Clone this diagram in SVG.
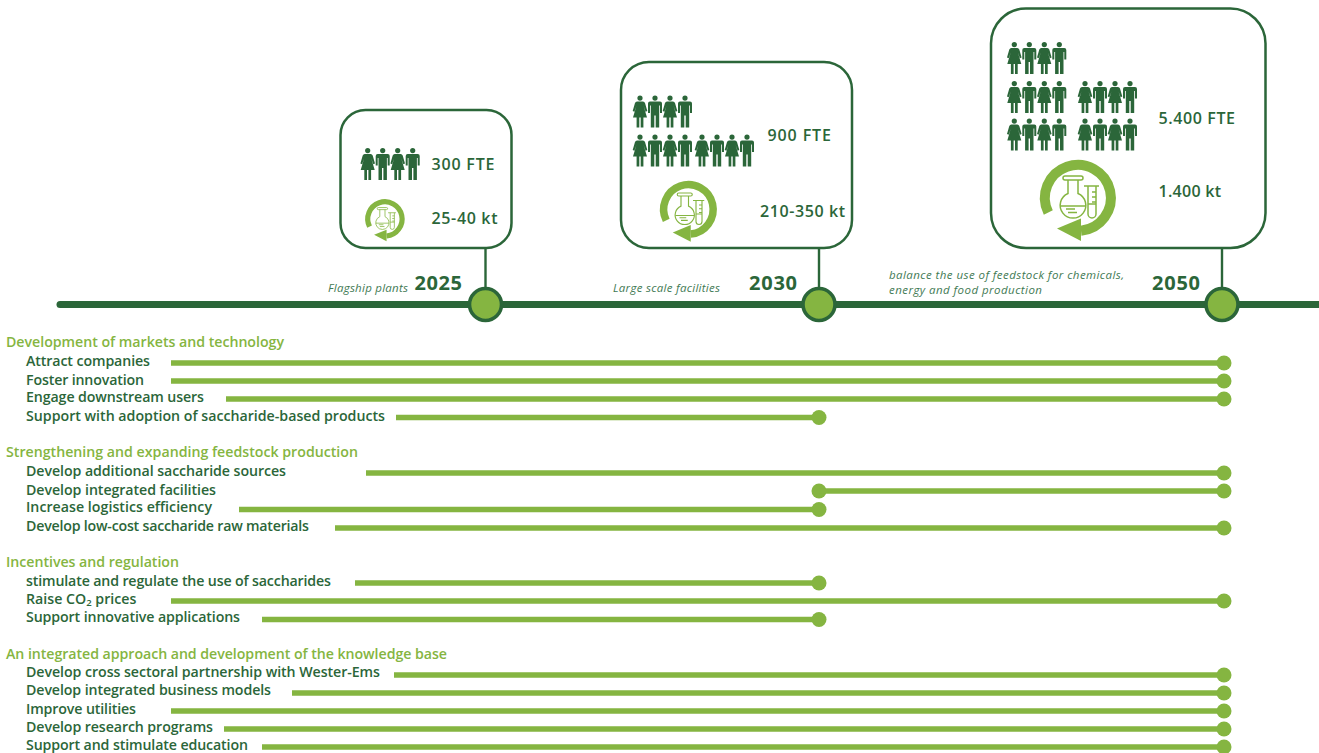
<svg xmlns="http://www.w3.org/2000/svg" width="1319" height="753" viewBox="0 0 1319 753">
<style>
text{font-family:"Open Sans",Lato,"Liberation Sans",sans-serif}
.box{fill:#fff;stroke:#2b6639;stroke-width:2.5}
.stem{stroke:#2b6639;stroke-width:2.4;fill:none}
.axis{stroke:#2b6639;stroke-width:7;stroke-linecap:round;fill:none}
.mile{fill:#85b541;stroke:#2b6639;stroke-width:3.6}
.bar{stroke:#85b541;stroke-width:5.4;fill:none}
.dot{fill:#85b541}
.head{fill:#85b541;font-size:14.2px;font-weight:600}
.item{fill:#2b6639;font-size:14.2px;font-weight:600}
.val{fill:#2b6639;font-size:16px;font-weight:600}
.year{fill:#2b6639;font-size:20px;font-weight:700}
.note{fill:#3f7a54;font-size:11.5px;font-style:italic;font-weight:400}
.p{fill:#2b6639}
</style>
<defs>
<g id="man" class="p"><circle cx="0" cy="2.6" r="2.6"/><path d="M-5 6H5Q7 6 7 8V17.5H5V10H4.2V32H0.7V20H-0.7V32H-4.2V10H-5V17.5H-7V8Q-7 6-5 6Z"/></g>
<g id="woman" class="p"><circle cx="0" cy="2.6" r="2.6"/><path d="M-3 6H3Q4.400 6 5 7.500L7.300 15.500L5.600 16.200L3.600 10.500L7 22H3.400V32H0.700V22H-0.700V32H-3.400V22H-7L-3.600 10.500L-5.600 16.200L-7.300 15.500L-5 7.500Q-4.400 6-3 6Z"/></g>
<g id="ico">
<path d="M3 32.700A33 33 0 1 0 -29.700 14.500" fill="none" stroke="#85b541" stroke-width="10"/>
<path d="M-21 30.500L3 20.500V43Z" fill="#85b541"/>
<g fill="none" stroke="#85b541" stroke-width="1.500">
<rect x="-15" y="-22" width="20" height="4" rx="2"/>
<path d="M-10 -18V-4.500A12.800 12.800 0 1 0 0 -4.500V-18"/>
<path d="M-17.500 8H7.500M-12 11H-3M-10 14.500H-1"/>
<path d="M6 -12H21M10 -12V16A4 4 0 0 0 18 16V-12M10 6H18M14 -6H18M14 -1H18M14 4H18"/>
</g>
</g>
</defs>

<g id="connectors">
<line class="axis" x1="60" y1="304.500" x2="1325" y2="304.500"/>
<line class="stem" x1="485.500" y1="248" x2="485.500" y2="290"/>
<line class="stem" x1="819" y1="248" x2="819" y2="290"/>
<line class="stem" x1="1222" y1="248" x2="1222" y2="290"/>
<g id="bars">
<line class="bar" x1="171" y1="363" x2="1224" y2="363"/><circle class="dot" cx="1224" cy="363" r="7.500"/>
<line class="bar" x1="171" y1="381" x2="1224" y2="381"/><circle class="dot" cx="1224" cy="381" r="7.500"/>
<line class="bar" x1="226" y1="399" x2="1224" y2="399"/><circle class="dot" cx="1224" cy="399" r="7.500"/>
<line class="bar" x1="396" y1="417.500" x2="819" y2="417.500"/><circle class="dot" cx="819" cy="417.500" r="7.500"/>
<line class="bar" x1="366" y1="473" x2="1224" y2="473"/><circle class="dot" cx="1224" cy="473" r="7.500"/>
<circle class="dot" cx="819" cy="491" r="7.500"/><line class="bar" x1="819" y1="491" x2="1224" y2="491"/><circle class="dot" cx="1224" cy="491" r="7.500"/>
<line class="bar" x1="239" y1="509.500" x2="819" y2="509.500"/><circle class="dot" cx="819" cy="509.500" r="7.500"/>
<line class="bar" x1="335" y1="528" x2="1224" y2="528"/><circle class="dot" cx="1224" cy="528" r="7.500"/>
<line class="bar" x1="355" y1="583" x2="819" y2="583"/><circle class="dot" cx="819" cy="583" r="7.500"/>
<line class="bar" x1="171" y1="601" x2="1224" y2="601"/><circle class="dot" cx="1224" cy="601" r="7.500"/>
<line class="bar" x1="262" y1="619.500" x2="819" y2="619.500"/><circle class="dot" cx="819" cy="619.500" r="7.500"/>
<line class="bar" x1="394" y1="675" x2="1224" y2="675"/><circle class="dot" cx="1224" cy="675" r="7.500"/>
<line class="bar" x1="292" y1="693" x2="1224" y2="693"/><circle class="dot" cx="1224" cy="693" r="7.500"/>
<line class="bar" x1="171" y1="711" x2="1224" y2="711"/><circle class="dot" cx="1224" cy="711" r="7.500"/>
<line class="bar" x1="224" y1="729" x2="1224" y2="729"/><circle class="dot" cx="1224" cy="729" r="7.500"/>
<line class="bar" x1="262" y1="747" x2="1224" y2="747"/><circle class="dot" cx="1224" cy="747" r="7.500"/>
</g>
</g>

<g id="node-2025">
<rect class="box" x="340.500" y="110" width="171" height="138" rx="25"/>
<use href="#woman" x="367.700" y="148"/><use href="#man" x="382.700" y="148"/><use href="#woman" x="397.700" y="148"/><use href="#man" x="412.700" y="148"/>
<use href="#ico" transform="translate(385 219) scale(.52)"/>
<text class="val" x="431.500" y="170" textLength="63">300 FTE</text>
<text class="val" x="431.500" y="224" textLength="66">25-40 kt</text>
<circle class="mile" cx="485.500" cy="304.500" r="16"/>
<text class="year" x="414.500" y="290" textLength="47.500">2025</text>
<text class="note" x="328" y="292" textLength="80">Flagship plants</text>
</g>

<g id="node-2030">
<rect class="box" x="621" y="62" width="231" height="186" rx="28"/>
<use href="#woman" x="640" y="95.500"/><use href="#man" x="655" y="95.500"/><use href="#woman" x="670" y="95.500"/><use href="#man" x="685" y="95.500"/>
<use href="#woman" x="640" y="134.500"/><use href="#man" x="655" y="134.500"/><use href="#woman" x="670" y="134.500"/><use href="#man" x="685" y="134.500"/>
<use href="#woman" x="702" y="134.500"/><use href="#man" x="717" y="134.500"/><use href="#woman" x="732" y="134.500"/><use href="#man" x="747" y="134.500"/>
<use href="#ico" transform="translate(688.500 209.500) scale(.75)"/>
<text class="val" x="767.500" y="141" textLength="63.500">900 FTE</text>
<text class="val" x="760" y="217" textLength="85">210-350 kt</text>
<circle class="mile" cx="819" cy="304.500" r="16"/>
<text class="year" x="749" y="290" textLength="48">2030</text>
<text class="note" x="613" y="292" textLength="107">Large scale facilities</text>
</g>

<g id="node-2050">
<rect class="box" x="991" y="8.500" width="274.500" height="239.500" rx="35"/>
<use href="#woman" x="1014.300" y="42"/><use href="#man" x="1029.300" y="42"/><use href="#woman" x="1044.300" y="42"/><use href="#man" x="1059.300" y="42"/>
<use href="#woman" x="1014.300" y="81"/><use href="#man" x="1029.300" y="81"/><use href="#woman" x="1044.300" y="81"/><use href="#man" x="1059.300" y="81"/>
<use href="#woman" x="1085" y="81"/><use href="#man" x="1100" y="81"/><use href="#woman" x="1115" y="81"/><use href="#man" x="1130" y="81"/>
<use href="#woman" x="1014.300" y="118.500"/><use href="#man" x="1029.300" y="118.500"/><use href="#woman" x="1044.300" y="118.500"/><use href="#man" x="1059.300" y="118.500"/>
<use href="#woman" x="1085" y="118.500"/><use href="#man" x="1100" y="118.500"/><use href="#woman" x="1115" y="118.500"/><use href="#man" x="1130" y="118.500"/>
<use href="#ico" transform="translate(1078 198)"/>
<text class="val" x="1158.500" y="124" textLength="76.500">5.400 FTE</text>
<text class="val" x="1158.500" y="197" textLength="62.500">1.400 kt</text>
<circle class="mile" cx="1222" cy="304.500" r="16"/>
<text class="year" x="1152" y="290" textLength="48">2050</text>
<text class="note" x="889" y="279" textLength="235">balance the use of feedstock for chemicals,</text>
<text class="note" x="889" y="294" textLength="153">energy and food production</text>
</g>

<g id="group-markets">
<text class="head" x="6" y="347" textLength="278">Development of markets and technology</text>
<text class="item" x="26" y="366" textLength="124">Attract companies</text>
<text class="item" x="26" y="384.500" textLength="118">Foster innovation</text>
<text class="item" x="26" y="402" textLength="178">Engage downstream users</text>
<text class="item" x="26" y="420.500" textLength="359">Support with adoption of saccharide-based products</text>
</g>
<g id="group-feedstock">
<text class="head" x="6" y="457" textLength="352">Strengthening and expanding feedstock production</text>
<text class="item" x="26" y="476" textLength="260">Develop additional saccharide sources</text>
<text class="item" x="26" y="494.500" textLength="190">Develop integrated facilities</text>
<text class="item" x="26" y="512" textLength="186">Increase logistics efficiency</text>
<text class="item" x="26" y="530.500" textLength="283">Develop low-cost saccharide raw materials</text>
</g>
<g id="group-incentives">
<text class="head" x="6" y="567" textLength="173">Incentives and regulation</text>
<text class="item" x="26" y="586" textLength="305">stimulate and regulate the use of saccharides</text>
<text class="item" x="26" y="604">Raise CO<tspan font-size="9.500" dy="2">2</tspan><tspan dy="-2"> prices</tspan></text>
<text class="item" x="26" y="622" textLength="214">Support innovative applications</text>
</g>
<g id="group-knowledge">
<text class="head" x="6" y="659" textLength="441">An integrated approach and development of the knowledge base</text>
<text class="item" x="26" y="677" textLength="354">Develop cross sectoral partnership with Wester-Ems</text>
<text class="item" x="26" y="695" textLength="245">Develop integrated business models</text>
<text class="item" x="26" y="714" textLength="110">Improve utilities</text>
<text class="item" x="26" y="732" textLength="187">Develop research programs</text>
<text class="item" x="26" y="750" textLength="222">Support and stimulate education</text>
</g>
</svg>
